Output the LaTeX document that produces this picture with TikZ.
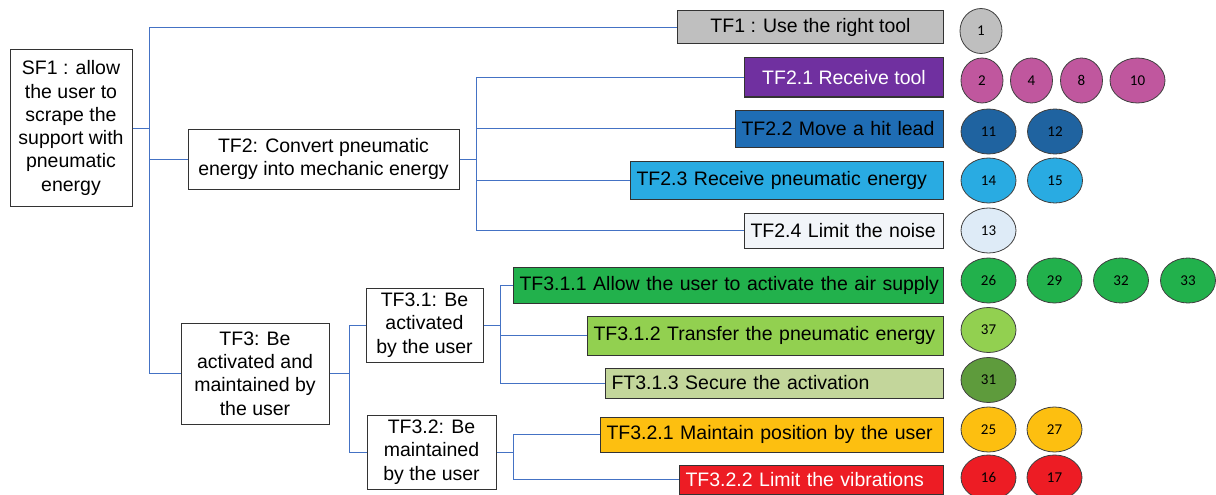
\documentclass[tikz,border=0pt]{standalone}
\usepackage{fontspec}
\setmainfont{Liberation Sans}
\newfontfamily\numfont{Carlito}
\usetikzlibrary{shapes.geometric}
\definecolor{linkblue}{HTML}{4472C4}
\definecolor{tgray}{HTML}{BFBFBF}
\definecolor{tpurple}{HTML}{7030A0}
\definecolor{tpink}{HTML}{C0579E}
\definecolor{tblue}{HTML}{1F6DB4}
\definecolor{tdblue}{HTML}{1F63A0}
\definecolor{tcyan}{HTML}{29ABE2}
\definecolor{tpale}{HTML}{F2F5F9}
\definecolor{tpaleb}{HTML}{DEEBF7}
\definecolor{tgreen}{HTML}{22B14C}
\definecolor{tlime}{HTML}{92D050}
\definecolor{tsage}{HTML}{C3D69B}
\definecolor{tolive}{HTML}{5E9B3C}
\definecolor{tamber}{HTML}{FDBF10}
\definecolor{tred}{HTML}{ED1C24}
\tikzset{
  fbox/.style={draw=black!80, line width=1pt, inner sep=2pt, align=center, font=\fontsize{19.5}{23.3}\selectfont},
  rbox/.style={fbox, anchor=east, align=left, inner xsep=6pt},
  num/.style={ellipse, draw=black!75, line width=0.8pt, minimum width=42, minimum height=45, inner sep=0pt, font=\numfont\fontsize{15}{15}\selectfont},
  wnum/.style={num, minimum width=55},
  link/.style={linkblue, line width=1pt}
}
\begin{document}
\begin{tikzpicture}[x=1pt,y=-1pt]
\useasboundingbox (0,0) rectangle (1216,495);
\node[fbox, minimum width=122, minimum height=156] (SF1) at (71,128) {SF1 : allow\\the user to\\scrape the\\support with\\pneumatic\\energy};
\node[fbox, minimum width=271, minimum height=60] (TF2) at (323.5,159) {TF2: Convert pneumatic\\energy into mechanic energy};
\node[fbox, minimum width=148, minimum height=101] (TF3) at (255,373.5) {TF3: Be\\activated and\\maintained by\\the user};
\node[fbox, minimum width=117, minimum height=74] (TF31) at (424.5,325) {TF3.1: Be\\activated\\by the user};
\node[fbox, minimum width=129, minimum height=74] (TF32) at (431.5,452) {TF3.2: Be\\maintained\\by the user};

\node[rbox, align=center, fill=tgray, minimum width=266, minimum height=33] (TF1) at (944,27.5) {TF1 : Use the right tool};
\node[rbox, align=center, fill=tpurple, text=white, minimum width=199, minimum height=39] (TF21) at (944,77.5) {TF2.1 Receive tool};
\node[rbox, fill=tblue, text width=196, minimum height=37] (TF22) at (944,128.5) {\mbox{TF2.2 Move a hit lead}};
\node[rbox, fill=tcyan, text width=301, minimum height=38] (TF23) at (944,180) {\mbox{TF2.3 Receive pneumatic energy}};
\node[rbox, fill=tpale, text width=187, minimum height=35] (TF24) at (944,230.5) {\mbox{TF2.4 Limit the noise}};
\node[rbox, fill=tgreen, text width=418, minimum height=36] (TF311) at (944,285) {\mbox{TF3.1.1 Allow the user to activate the air supply}};
\node[rbox, fill=tlime, text width=344, minimum height=39] (TF312) at (944,335.5) {\mbox{TF3.1.2 Transfer the pneumatic energy}};
\node[rbox, fill=tsage, text width=326, minimum height=30] (FT313) at (944,383) {\mbox{FT3.1.3 Secure the activation}};
\node[rbox, fill=tamber, text width=331, minimum height=35] (TF321) at (944,434.5) {\mbox{TF3.2.1 Maintain position by the user}};
\node[rbox, fill=tred, text=white, text width=252, minimum height=29] (TF322) at (944,479.5) {\mbox{TF3.2.2 Limit the vibrations}};

\coordinate (J1) at (149,128);
\coordinate (J2) at (476,159);
\coordinate (J3) at (349,373.5);
\coordinate (J31) at (500,325);
\coordinate (J32) at (513,452);

\draw[link] (SF1.east) -- (J1) |- (TF1.west);
\draw[link] (J1) |- (TF2.west);
\draw[link] (J1) |- (TF3.west);
\draw[link] (TF2.east) -- (J2) |- (TF21.west);
\draw[link] (J2) |- (TF22.west);
\draw[link] (J2) |- (TF23.west);
\draw[link] (J2) |- (TF24.west);
\draw[link] (TF3.east) -- (J3) |- (TF31.west);
\draw[link] (J3) |- (TF32.west);
\draw[link] (TF31.east) -- (J31) |- (TF311.west);
\draw[link] (J31) |- (TF312.west);
\draw[link] (J31) |- (FT313.west);
\draw[link] (TF32.east) -- (J32) |- (TF321.west);
\draw[link] (J32) |- (TF322.west);

\node[num, fill=tgray] (c1) at (981,31) {1};
\node[num, fill=tpink] (c2) at (982,80.5) {2};
\node[num, fill=tpink] (c4) at (1031.5,80.5) {4};
\node[num, fill=tpink] (c8) at (1081.5,80.5) {8};
\node[wnum, fill=tpink] (c10) at (1137.5,80.5) {10};
\node[wnum, fill=tdblue] (c11) at (988.5,131.5) {11};
\node[wnum, fill=tdblue] (c12) at (1055,131.5) {12};
\node[wnum, fill=tcyan] (c14) at (988.5,180.5) {14};
\node[wnum, fill=tcyan] (c15) at (1055,180.5) {15};
\node[wnum, fill=tpaleb] (c13) at (988.5,230.5) {13};
\node[wnum, fill=tgreen] (c26) at (988.5,280.5) {26};
\node[wnum, fill=tgreen] (c29) at (1054.5,280.5) {29};
\node[wnum, fill=tgreen] (c32) at (1121,280.5) {32};
\node[wnum, fill=tgreen] (c33) at (1188,280.5) {33};
\node[wnum, fill=tlime] (c37) at (988.5,330) {37};
\node[wnum, fill=tolive] (c31) at (988.5,380) {31};
\node[wnum, fill=tamber] (c25) at (988.5,429.5) {25};
\node[wnum, fill=tamber] (c27) at (1054.5,429.5) {27};
\node[wnum, fill=tred] (c16) at (988.5,477.5) {16};
\node[wnum, fill=tred] (c17) at (1054.5,477.5) {17};
\end{tikzpicture}
\end{document}
